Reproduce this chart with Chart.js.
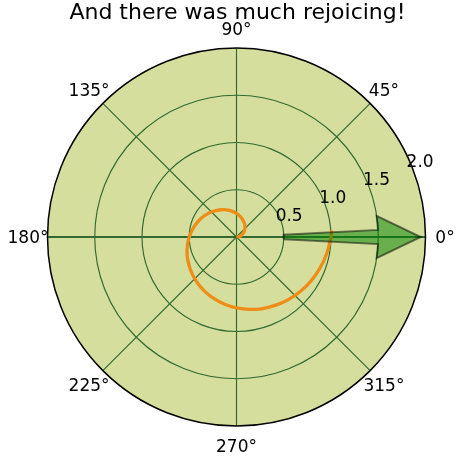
<!DOCTYPE html>
<html>
<head>
<meta charset="utf-8">
<script src="https://cdn.jsdelivr.net/npm/chart.js@4.4.0/dist/chart.umd.min.js"></script>
<style>
  html, body { margin: 0; padding: 0; background: #ffffff; }
  #wrap { width: 474px; height: 474px; position: relative; }
</style>
</head>
<body>
<div id="wrap"><canvas id="c"></canvas></div>
<script>
// ---- data ----
const titleText = "And there was much rejoicing!";
// spiral: angle (degrees) and radius
const spiralTheta = [0,10,20,30,40,50,60,70,80,90,100,110,120,130,140,150,160,170,180,
  190,200,210,220,230,240,250,260,270,280,290,300,310,320,330,340,350,360,364];
const spiralR = [0.000,0.028,0.056,0.083,0.111,0.139,0.167,0.194,0.222,0.250,0.278,0.306,0.333,0.361,0.389,0.417,0.444,0.472,0.500,
  0.528,0.556,0.583,0.611,0.639,0.667,0.694,0.722,0.750,0.778,0.806,0.833,0.861,0.889,0.917,0.944,0.972,1.000,1.010];
// arrow (polar data units: theta in radians, r in radial units)
const arrowTheta0 = [0];
const arrowR0 = [0.5];
const arrowDR = [1.0];
const arrowWidth = [0.1];
const arrowHeadWidth = [0.3];
const arrowHeadLength = [0.45];
// axes ticks
const rTicks = [0.5, 1.0, 1.5, 2.0];
const rTickLabels = ["0.5", "1.0", "1.5", "2.0"];
const thetaTicks = [0, 45, 90, 135, 180, 225, 270, 315];
const thetaTickLabels = ["0°", "45°", "90°", "135°", "180°", "225°", "270°", "315°"];
const rMax = 2.0;
const rLabelAngle = 22.5;

// ---- build tables ----
const toXY = (thDeg, r) => ({ x: r * Math.cos(thDeg * Math.PI / 180), y: r * Math.sin(thDeg * Math.PI / 180) });
const spiralPts = spiralTheta.map((t, i) => toXY(t, spiralR[i]));

function arrowPolygon() {
  const t0 = arrowTheta0[0], r0 = arrowR0[0], L = arrowDR[0];
  const hw = arrowWidth[0] / 2, hh = arrowHeadWidth[0] / 2, hl = arrowHeadLength[0];
  const verts = [
    [t0 - hw, r0], [t0 - hw, r0 + L], [t0 - hh, r0 + L], [t0, r0 + L + hl],
    [t0 + hh, r0 + L], [t0 + hw, r0 + L], [t0 + hw, r0], [t0 - hw, r0]
  ];
  return verts.map(v => ({ x: v[1] * Math.cos(v[0]), y: v[1] * Math.sin(v[0]) }));
}
const arrowPts = arrowPolygon();

const FACE = '#d5de9c';
const GRID = '#316931';
const FONT = "'DejaVu Sans', 'Liberation Sans', sans-serif";

const polarFrame = {
  id: 'polarFrame',
  beforeDatasetsDraw(chart) {
    const ctx = chart.ctx, xs = chart.scales.x, ys = chart.scales.y;
    const cx = xs.getPixelForValue(0), cy = ys.getPixelForValue(0);
    const R = xs.getPixelForValue(rMax) - cx;
    ctx.save();
    ctx.beginPath(); ctx.arc(cx, cy, R, 0, Math.PI * 2);
    ctx.fillStyle = FACE; ctx.fill();
    ctx.strokeStyle = GRID;
    // circles
    ctx.lineWidth = 1.15;
    rTicks.forEach(r => {
      if (r >= rMax) return;
      const rr = xs.getPixelForValue(r) - cx;
      ctx.beginPath(); ctx.arc(cx, cy, rr, 0, Math.PI * 2); ctx.stroke();
    });
    // angle lines
    thetaTicks.forEach(t => {
      const a = t * Math.PI / 180;
      ctx.lineWidth = (t % 180 === 0) ? 2 : 1.15;
      ctx.beginPath();
      ctx.moveTo(cx, cy);
      ctx.lineTo(xs.getPixelForValue(rMax * Math.cos(a)), ys.getPixelForValue(rMax * Math.sin(a)));
      ctx.stroke();
    });
    ctx.restore();
    // clip datasets to the circle
    ctx.save();
    ctx.beginPath(); ctx.arc(cx, cy, R, 0, Math.PI * 2); ctx.clip();
  },
  afterDatasetsDraw(chart) {
    const ctx = chart.ctx, xs = chart.scales.x, ys = chart.scales.y;
    ctx.restore();
    const cx = xs.getPixelForValue(0), cy = ys.getPixelForValue(0);
    const R = xs.getPixelForValue(rMax) - cx;
    ctx.save();
    // spine
    ctx.beginPath(); ctx.arc(cx, cy, R, 0, Math.PI * 2);
    ctx.strokeStyle = '#000000'; ctx.lineWidth = 1.5; ctx.stroke();
    // theta labels
    const tf = 17;
    ctx.fillStyle = '#000000';
    ctx.font = tf + 'px ' + FONT;
    ctx.textAlign = 'center'; ctx.textBaseline = 'alphabetic';
    thetaTicks.forEach((t, i) => {
      const a = t * Math.PI / 180;
      const px = cx + (R + 19.5) * Math.cos(a);
      const py = cy - (R + 19.5) * Math.sin(a);
      ctx.fillText(thetaTickLabels[i], px, py + 0.729 * tf / 2);
    });
    // r labels
    const a = rLabelAngle * Math.PI / 180;
    rTicks.forEach((r, i) => {
      const px = xs.getPixelForValue(r * Math.cos(a));
      const py = ys.getPixelForValue(r * Math.sin(a));
      ctx.fillText(rTickLabels[i], px + 9, py - 4 + 0.729 * tf / 2);
    });
    // title
    ctx.font = '22px ' + FONT;
    ctx.fillText(titleText, 237.5, 18.5);
    ctx.restore();
  }
};

new Chart(document.getElementById('c'), {
  type: 'scatter',
  data: {
    datasets: [
      {
        label: 'arrow',
        data: arrowPts,
        showLine: true,
        tension: 0,
        pointRadius: 0,
        borderColor: 'rgba(0,0,0,0.5)',
        borderWidth: 2,
        borderJoinStyle: 'miter',
        backgroundColor: 'rgba(0,128,0,0.5)',
        fill: 'shape'
      },
      {
        label: 'spiral',
        data: spiralPts,
        showLine: true,
        tension: 0.33,
        pointRadius: 0,
        borderColor: '#ee8d18',
        borderWidth: 3.3,
        borderCapStyle: 'butt',
        borderJoinStyle: 'round',
        fill: false
      }
    ]
  },
  options: {
    responsive: true,
    maintainAspectRatio: false,
    animation: false,
    layout: { padding: { left: 47.5, right: 48.5, top: 48, bottom: 48 } },
    scales: {
      x: { type: 'linear', min: -rMax, max: rMax, display: false },
      y: { type: 'linear', min: -rMax, max: rMax, display: false }
    },
    plugins: {
      legend: { display: false },
      title: { display: false },
      tooltip: { enabled: false }
    }
  },
  plugins: [polarFrame]
});
</script>
</body>
</html>
